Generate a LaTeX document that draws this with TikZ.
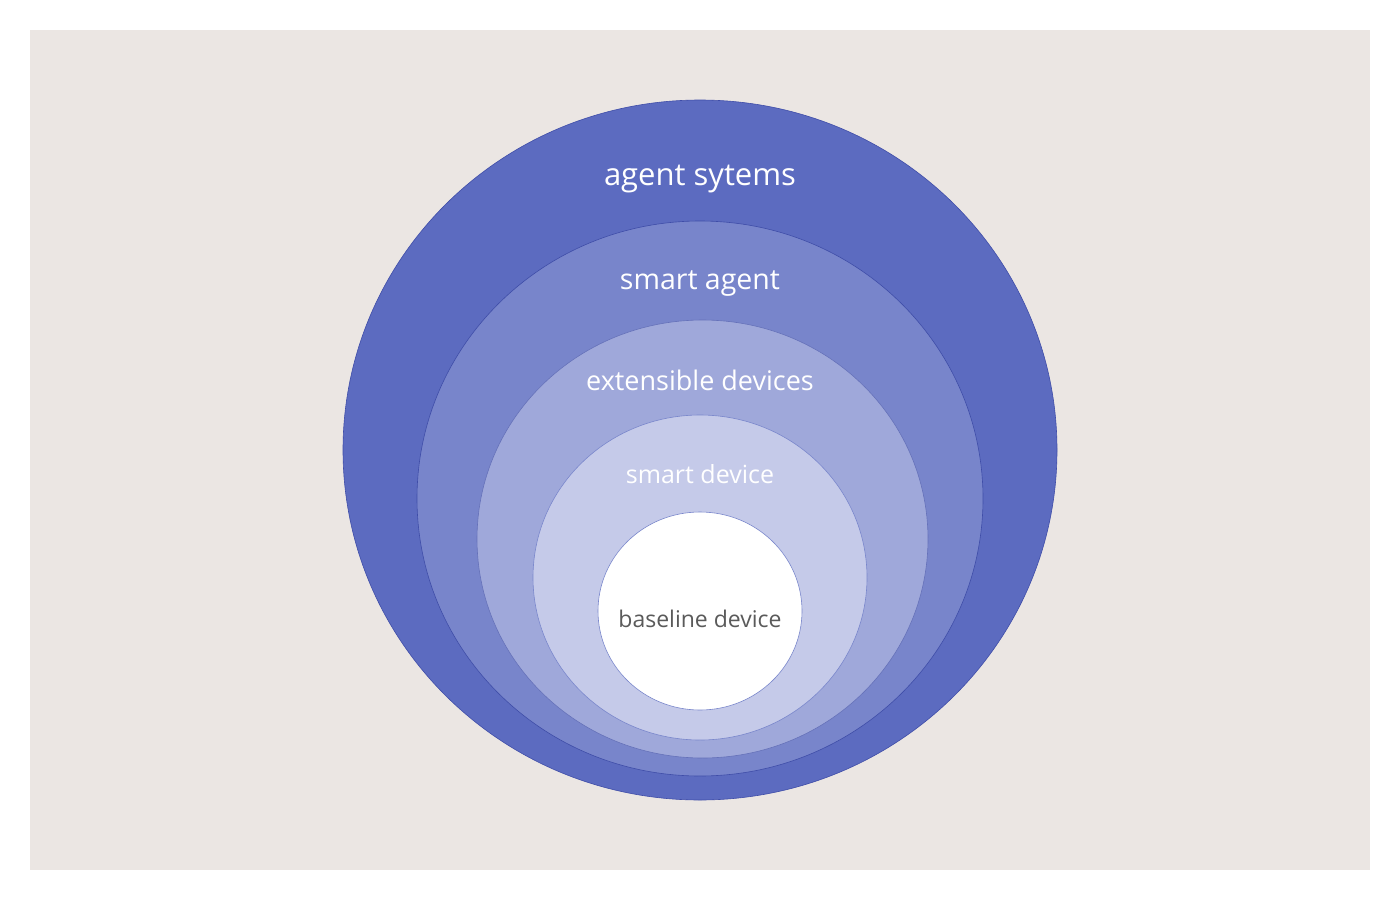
\documentclass[tikz,border=0pt]{standalone}
\usepackage{fontspec}
\setmainfont{Open Sans}
\begin{document}
\begin{tikzpicture}[x=1pt,y=-1pt,
  ring/.style={draw=#1, line width=0.6pt},
  lbl/.style={text=white, inner sep=0pt, anchor=base},
]
\definecolor{bgc}{HTML}{EBE6E3}
\definecolor{c1}{HTML}{5C6BC0}
\definecolor{c2}{HTML}{7885CB}
\definecolor{c3}{HTML}{9FA8DA}
\definecolor{c4}{HTML}{C5CAE9}
\definecolor{edge}{HTML}{3F4DA8}
\definecolor{edgelt}{HTML}{7986CB}
\definecolor{greytxt}{HTML}{5A5A5A}
\useasboundingbox (0,0) rectangle (1400,900);
\fill[white] (0,0) rectangle (1400,900);
\fill[bgc] (30,30) rectangle (1370,870);
\filldraw[fill=c1, ring=edge] (700,450) ellipse [x radius=357, y radius=350];
\filldraw[fill=c2, ring=edge] (700,498.5) ellipse [x radius=283, y radius=277.5];
\filldraw[fill=c3, ring=edge!80] (702.5,539) ellipse [x radius=225.5, y radius=219];
\filldraw[fill=c4, ring=edgelt] (700,577.5) ellipse [x radius=167, y radius=162.5];
\filldraw[fill=white, ring=edgelt] (700,611) ellipse [x radius=102, y radius=99];
\node[lbl, font=\fontsize{31}{36}\selectfont] (t1) at (700,185) {agent sytems};
\node[lbl, font=\fontsize{28.5}{33}\selectfont] (t2) at (700,289) {smart agent};
\node[lbl, font=\fontsize{27}{32}\selectfont] (t3) at (700,390) {extensible devices};
\node[lbl, font=\fontsize{25}{30}\selectfont] (t4) at (700,483) {smart device};
\node[lbl, text=greytxt, font=\fontsize{23}{27}\selectfont] (t5) at (700,627) {baseline device};
\end{tikzpicture}
\end{document}
